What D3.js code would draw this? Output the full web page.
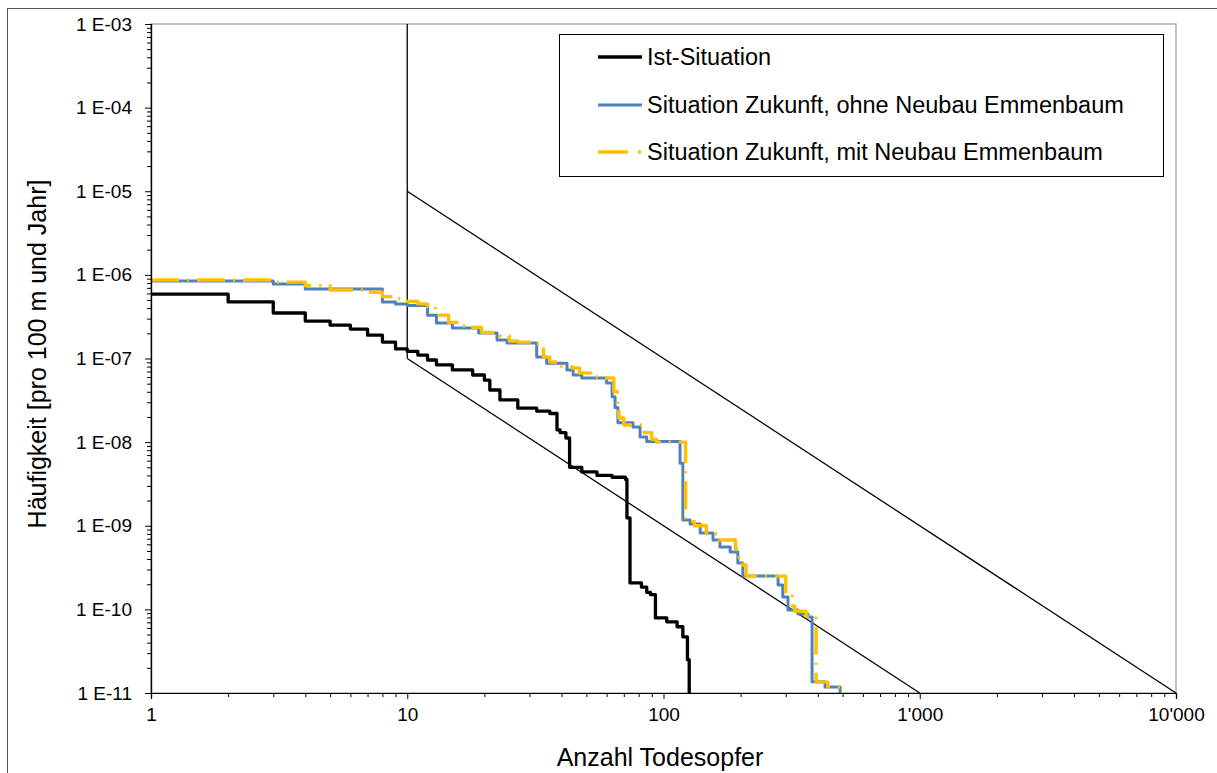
<!DOCTYPE html>
<html><head><meta charset="utf-8">
<script src="https://cdn.jsdelivr.net/npm/d3@7/dist/d3.min.js"></script>
<style>
body{margin:0;background:#fff}
svg{display:block}
text{font-family:"Liberation Sans",Arial,sans-serif;fill:#000}
</style>
</head><body>
<svg id="chart" width="1217" height="773"></svg>
<script>
// ---- data ----
const xMajorTicks = [1, 10, 100, 1000, 10000];
const xTickLabels = ["1", "10", "100", "1'000", "10'000"];
const yMajorTicks = [1e-3, 1e-4, 1e-5, 1e-6, 1e-7, 1e-8, 1e-9, 1e-10, 1e-11];
const yTickLabels = ["1 E-03", "1 E-04", "1 E-05", "1 E-06", "1 E-07", "1 E-08", "1 E-09", "1 E-10", "1 E-11"];
const seriesNames = ["Ist-Situation", "Situation Zukunft, ohne Neubau Emmenbaum", "Situation Zukunft, mit Neubau Emmenbaum"];
const xTitle = "Anzahl Todesopfer";
const yTitle = "Häufigkeit [pro 100 m und Jahr]";

const istN = [1, 2, 3, 4, 5, 6, 7, 8, 9, 10, 11, 12, 13, 15, 18, 20, 21, 23, 27, 32, 36, 38.4, 39.5, 41.6, 43, 48, 55, 63, 71, 72, 74, 82, 86, 89, 93, 103, 113, 119, 124, 126];
const istF = [5.9e-7, 4.75e-7, 3.5e-7, 2.8e-7, 2.5e-7, 2.25e-7, 1.9e-7, 1.57e-7, 1.3e-7, 1.22e-7, 1.1e-7, 9.6e-8, 8.4e-8, 7.3e-8, 6.35e-8, 5.5e-8, 4.2e-8, 3.2e-8, 2.55e-8, 2.35e-8, 2.2e-8, 1.4e-8, 1.3e-8, 1.12e-8, 5.0e-9, 4.4e-9, 4.0e-9, 3.8e-9, 3.6e-9, 1.24e-9, 2.07e-10, 1.85e-10, 1.6e-10, 1.5e-10, 7.9e-11, 7.1e-11, 6.2e-11, 4.7e-11, 2.5e-11, 1e-11];

const ohneN = [1, 3, 4, 8, 9, 10, 12, 13, 15, 19, 22.4, 24.5, 32, 35, 42, 44.4, 48, 60, 63, 64.7, 66.4, 76, 81, 86, 116, 119, 127, 139, 156, 166, 182, 195, 204, 280, 292, 306, 335, 366, 380, 427, 489];
const ohneF = [8.45e-7, 7.8e-7, 6.8e-7, 4.75e-7, 4.5e-7, 4.3e-7, 3.3e-7, 2.66e-7, 2.32e-7, 2.02e-7, 1.66e-7, 1.53e-7, 1.04e-7, 8.8e-8, 7.3e-8, 6.35e-8, 5.85e-8, 5.1e-8, 3.5e-8, 2.6e-8, 1.7e-8, 1.52e-8, 1.15e-8, 1.02e-8, 5.6e-9, 1.17e-9, 1.05e-9, 8.2e-10, 6.76e-10, 5.57e-10, 4.86e-10, 3.59e-10, 2.5e-10, 1.96e-10, 1.41e-10, 9.8e-11, 8.8e-11, 8.1e-11, 1.36e-11, 1.18e-11, 1e-11];

const mitN = [1, 3, 4, 5, 7, 8, 9, 10, 11, 12, 12.9, 14.5, 16, 18, 19.5, 23, 25, 27, 30, 34, 36, 40, 44, 47, 52, 59, 64, 66, 67, 70, 84, 90, 94, 122, 132, 147, 165, 191, 197, 203, 210, 300, 318, 325, 360, 394, 438, 502];
const mitF = [8.7e-7, 8.2e-7, 7.4e-7, 6.6e-7, 6.2e-7, 5.5e-7, 5.2e-7, 4.8e-7, 4.5e-7, 4.15e-7, 3.3e-7, 2.7e-7, 2.45e-7, 2.35e-7, 2.05e-7, 1.86e-7, 1.62e-7, 1.57e-7, 1.49e-7, 1.04e-7, 9.1e-8, 8.0e-8, 7.7e-8, 6.7e-8, 6.0e-8, 5.85e-8, 4.0e-8, 2.56e-8, 1.94e-8, 1.6e-8, 1.3e-8, 1.08e-8, 1.0e-8, 1.12e-9, 1.0e-9, 8.0e-10, 6.76e-10, 5.27e-10, 4.23e-10, 3.39e-10, 2.5e-10, 1.5e-10, 1.1e-10, 9.5e-11, 8.3e-11, 1.35e-11, 1.18e-11, 1e-11];

// reference (criteria) lines
const refVertN = [10, 10], refVertF = [1e-3, 1e-7];
const refUpperN = [10, 10000], refUpperF = [1e-5, 1e-11];
const refLowerN = [10, 1000], refLowerF = [1e-7, 1e-11];

// ---- chart ----
const svg = d3.select("#chart");
const x = d3.scaleLog().domain([1, 10000]).range([151, 1176]);
const y = d3.scaleLog().domain([1e-11, 1e-3]).range([693, 24]);

// outer chart frame
svg.append("rect").attr("x", 7.5).attr("y", 8.5).attr("width", 1230).attr("height", 800)
  .attr("fill", "none").attr("stroke", "#595959").attr("stroke-width", 1);

// plot area border (top/right)
svg.append("rect").attr("x", 151).attr("y", 24).attr("width", 1176 - 151).attr("height", 693 - 24)
  .attr("fill", "none").attr("stroke", "#9a9a9a").attr("stroke-width", 1.2);

const zip = (a, b) => a.map((v, i) => [v, b[i]]);
const straight = d3.line().x(d => x(d[0])).y(d => y(d[1]));
const step = d3.line().x(d => x(d[0])).y(d => y(d[1])).curve(d3.curveStepAfter);

// reference lines
[[refVertN, refVertF], [refUpperN, refUpperF], [refLowerN, refLowerF]].forEach(([n, f]) => {
  svg.append("path").attr("d", straight(zip(n, f)))
    .attr("fill", "none").attr("stroke", "#000").attr("stroke-width", 1.3);
});

// series
const series = [
  {n: istN, f: istF, color: "#000000", w: 3.3, dash: null},
  {n: ohneN, f: ohneF, color: "#4F81BD", w: 3, dash: null},
  {n: mitN, f: mitF, color: "#FFC000", w: 3.4, dash: "28,8,2,8"}
];
series.forEach(s => {
  svg.append("path").attr("d", step(zip(s.n, s.f)))
    .attr("fill", "none").attr("stroke", s.color).attr("stroke-width", s.w)
    .attr("stroke-linejoin", "round")
    .attr("stroke-dasharray", s.dash);
});

// axes
const xMinor = [];
for (let p = 0; p < 4; p++) for (let k = 2; k <= 9; k++) xMinor.push(k * Math.pow(10, p));
const yMinor = [];
for (let p = -11; p < -3; p++) for (let k = 2; k <= 9; k++) yMinor.push(k * Math.pow(10, p));

const gx = svg.append("g").attr("transform", "translate(0,693)");
gx.call(d3.axisBottom(x).tickValues(xMinor).tickSize(4).tickFormat(""));
const gx2 = svg.append("g").attr("transform", "translate(0,693)");
gx2.call(d3.axisBottom(x).tickValues(xMajorTicks).tickSize(6).tickPadding(9)
  .tickFormat((d, i) => xTickLabels[i]));

const gy = svg.append("g").attr("transform", "translate(151,0)");
gy.call(d3.axisLeft(y).tickValues(yMinor).tickSize(4).tickFormat(""));
const gy2 = svg.append("g").attr("transform", "translate(151,0)");
gy2.call(d3.axisLeft(y).tickValues(yMajorTicks).tickSize(6).tickPadding(13)
  .tickFormat((d, i) => yTickLabels[i]));

svg.selectAll(".domain").attr("stroke", "#000").attr("stroke-width", 1.2);
svg.selectAll(".tick line").attr("stroke", "#000").attr("stroke-width", 1);
svg.selectAll(".tick text").attr("font-size", 19).attr("font-family", "'Liberation Sans', Arial, sans-serif");

// axis titles
svg.append("text").attr("x", 660).attr("y", 766).attr("text-anchor", "middle")
  .attr("font-size", 25).text(xTitle);
svg.append("text").attr("transform", "translate(46,354) rotate(-90)").attr("text-anchor", "middle")
  .attr("font-size", 25).text(yTitle);

// legend
const lg = svg.append("g");
lg.append("rect").attr("x", 559.5).attr("y", 34.5).attr("width", 604).attr("height", 142)
  .attr("fill", "#fff").attr("stroke", "#000").attr("stroke-width", 1);
const rowsY = [57, 105, 152];
series.forEach((s, i) => {
  lg.append("line").attr("x1", 598).attr("x2", 642).attr("y1", rowsY[i]).attr("y2", rowsY[i])
    .attr("stroke", s.color).attr("stroke-width", s.w).attr("stroke-dasharray", s.dash ? "30,10,3,10" : null);
  lg.append("text").attr("x", 647).attr("y", rowsY[i]).attr("dy", "0.35em")
    .attr("font-size", 23.5).text(seriesNames[i]);
});
</script>
</body></html>
